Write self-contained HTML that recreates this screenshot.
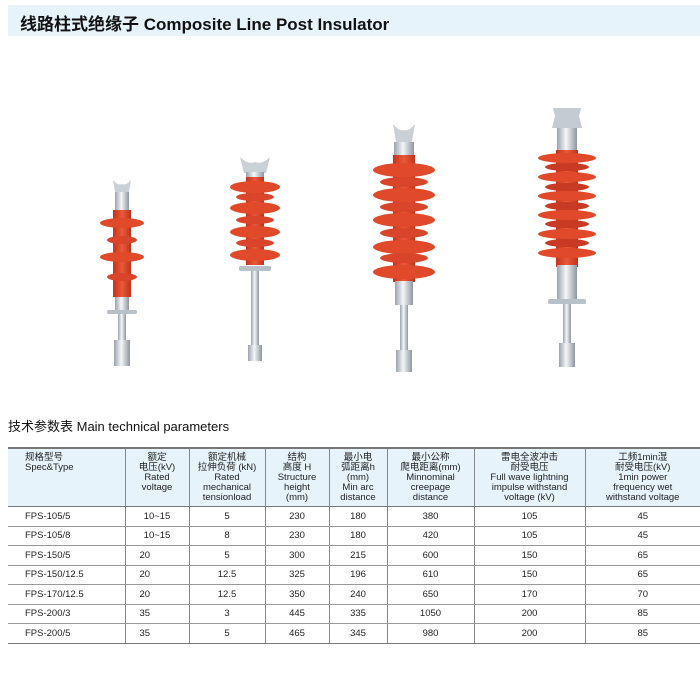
<!DOCTYPE html>
<html><head><meta charset="utf-8"><style>
body{margin:0;width:700px;height:673px;background:#fff;position:relative;overflow:hidden;font-family:"Liberation Sans","Noto Sans CJK SC",sans-serif;}
.hdr{position:absolute;left:8px;top:5px;width:692px;height:31px;background:#e6f3fb;}
.hdr span{position:absolute;left:12px;top:5px;font-size:17px;font-weight:bold;color:#111;white-space:nowrap;}
.sub{position:absolute;left:8px;top:416px;font-size:13px;color:#111;white-space:nowrap;}
table{position:absolute;left:8px;top:447px;width:692px;border-collapse:collapse;font-size:9.5px;color:#222;table-layout:fixed;}
th{background:#e6f3fb;font-weight:normal;line-height:10px;vertical-align:top;padding:4px 1px 2px;height:51px;border-top:2px solid #777;border-bottom:1px solid #777;}
td{height:18.5px;border-bottom:1px solid #999;text-align:center;padding:0;}
th,td{border-left:1px solid #888;}
th:first-child,td:first-child{border-left:none;text-align:left;padding-left:17px;}
tr:last-child td{border-bottom:1.5px solid #777;}
</style></head><body>
<div class="hdr"><span>线路柱式绝缘子 Composite Line Post Insulator</span></div>
<svg width="700" height="400" style="position:absolute;left:0;top:0">
<defs>
<linearGradient id="m" x1="0" x2="1"><stop offset="0" stop-color="#9aa3ad"/><stop offset=".45" stop-color="#f4f6f8"/><stop offset="1" stop-color="#8d96a0"/></linearGradient>
<linearGradient id="r" x1="0" x2="1"><stop offset="0" stop-color="#c8321a"/><stop offset=".5" stop-color="#e85a3a"/><stop offset="1" stop-color="#c2301a"/></linearGradient>
</defs>
<g>
<path d="M113 180 Q118 186 122 184 Q126 186 131 180 L129 192 L115 192Z" fill="#c9d0d6"/>
<rect x="115" y="192" width="14" height="18" fill="url(#m)"/>
<rect x="113" y="210" width="18" height="87" fill="url(#r)"/>
<ellipse cx="122" cy="223" rx="22" ry="5" fill="#e04a2a"/>
<ellipse cx="122" cy="240" rx="15" ry="4" fill="#d8452a"/>
<ellipse cx="122" cy="257" rx="22" ry="5" fill="#e04a2a"/>
<ellipse cx="122" cy="277" rx="15" ry="4" fill="#d8452a"/>
<rect x="115" y="297" width="14" height="14" fill="url(#m)"/>
<rect x="107" y="310" width="30" height="4" rx="2" fill="#b8c0c8"/>
<rect x="118" y="314" width="8" height="28" fill="url(#m)"/>
<rect x="114" y="340" width="16" height="26" fill="url(#m)"/>
</g>
<g>
<path d="M240 157 Q248 165 255 162 Q262 165 270 157 L266 173 L244 173Z" fill="#c9d0d6"/>
<rect x="246" y="172" width="18" height="6" fill="url(#m)"/>
<rect x="246" y="177" width="18" height="88" fill="url(#r)"/>
<ellipse cx="255" cy="187" rx="25" ry="6" fill="#e04a2a"/>
<ellipse cx="255" cy="197" rx="19" ry="4" fill="#d8452a"/>
<ellipse cx="255" cy="208" rx="25" ry="6" fill="#e04a2a"/>
<ellipse cx="255" cy="220" rx="19" ry="4" fill="#d8452a"/>
<ellipse cx="255" cy="232" rx="25" ry="6" fill="#e04a2a"/>
<ellipse cx="255" cy="243" rx="19" ry="4" fill="#d8452a"/>
<ellipse cx="255" cy="255" rx="25" ry="6" fill="#e04a2a"/>
<rect x="239" y="266" width="32" height="5" rx="2" fill="#b8c0c8"/>
<rect x="251" y="271" width="8" height="80" fill="url(#m)"/>
<rect x="248" y="345" width="14" height="16" fill="url(#m)"/>
</g>
<g>
<path d="M393 124 Q400 132 404 130 Q408 132 415 124 L412 142 L396 142Z" fill="#c9d0d6"/>
<rect x="394" y="142" width="20" height="14" fill="url(#m)"/>
<rect x="393" y="155" width="22" height="127" fill="url(#r)"/>
<ellipse cx="404" cy="170" rx="31" ry="7" fill="#e04a2a"/>
<ellipse cx="404" cy="182" rx="24" ry="5" fill="#d8452a"/>
<ellipse cx="404" cy="195" rx="31" ry="7" fill="#e04a2a"/>
<ellipse cx="404" cy="207" rx="24" ry="5" fill="#d8452a"/>
<ellipse cx="404" cy="220" rx="31" ry="7" fill="#e04a2a"/>
<ellipse cx="404" cy="233" rx="24" ry="5" fill="#d8452a"/>
<ellipse cx="404" cy="247" rx="31" ry="7" fill="#e04a2a"/>
<ellipse cx="404" cy="258" rx="24" ry="5" fill="#d8452a"/>
<ellipse cx="404" cy="272" rx="31" ry="7" fill="#e04a2a"/>
<rect x="395" y="281" width="18" height="24" fill="url(#m)"/>
<rect x="400" y="305" width="8" height="47" fill="url(#m)"/>
<rect x="396" y="350" width="16" height="22" fill="url(#m)"/>
</g>
<g>
<path d="M553 108 L581 108 L579 116 L582 128 L552 128 L555 116Z" fill="#c4cbd2"/>
<rect x="557" y="128" width="20" height="24" fill="url(#m)"/>
<rect x="556" y="150" width="22" height="117" fill="url(#r)"/>
<ellipse cx="567" cy="158" rx="29" ry="5" fill="#e04a2a"/>
<ellipse cx="567" cy="167" rx="22" ry="4" fill="#c83a24"/>
<ellipse cx="567" cy="177" rx="29" ry="5" fill="#e04a2a"/>
<ellipse cx="567" cy="187" rx="22" ry="4" fill="#c83a24"/>
<ellipse cx="567" cy="196" rx="29" ry="5" fill="#e04a2a"/>
<ellipse cx="567" cy="206" rx="22" ry="4" fill="#c83a24"/>
<ellipse cx="567" cy="215" rx="29" ry="5" fill="#e04a2a"/>
<ellipse cx="567" cy="224" rx="22" ry="4" fill="#c83a24"/>
<ellipse cx="567" cy="234" rx="29" ry="5" fill="#e04a2a"/>
<ellipse cx="567" cy="243" rx="22" ry="4" fill="#c83a24"/>
<ellipse cx="567" cy="253" rx="29" ry="5" fill="#e04a2a"/>
<rect x="557" y="265" width="20" height="36" fill="url(#m)"/>
<rect x="548" y="299" width="38" height="5" rx="2" fill="#b8c0c8"/>
<rect x="563" y="304" width="8" height="42" fill="url(#m)"/>
<rect x="559" y="343" width="16" height="24" fill="url(#m)"/>
</g>
</svg>
<div class="sub">技术参数表 Main technical parameters</div>
<table>
<colgroup><col style="width:117px"><col style="width:64px"><col style="width:76px"><col style="width:64px"><col style="width:58px"><col style="width:87px"><col style="width:111px"><col></colgroup>
<tr><th style="text-align:left">规格型号<br>Spec&amp;Type</th><th>额定<br>电压(kV)<br>Rated<br>voltage</th><th>额定机械<br>拉伸负荷 (kN)<br>Rated<br>mechanical<br>tensionload</th><th>结构<br>高度 H<br>Structure<br>height<br>(mm)</th><th>最小电<br>弧距离h<br>(mm)<br>Min arc<br>distance</th><th>最小公称<br>爬电距离(mm)<br>Minnominal<br>creepage<br>distance</th><th>雷电全波冲击<br>耐受电压<br>Full wave lightning<br>impulse withstand<br>voltage (kV)</th><th>工频1min湿<br>耐受电压(kV)<br>1min power<br>frequency wet<br>withstand voltage</th></tr>
<tr><td>FPS-105/5</td><td>10~15</td><td>5</td><td>230</td><td>180</td><td>380</td><td>105</td><td>45</td></tr>
<tr><td>FPS-105/8</td><td>10~15</td><td>8</td><td>230</td><td>180</td><td>420</td><td>105</td><td>45</td></tr>
<tr><td>FPS-150/5</td><td style="text-align:left;padding-left:14px">20</td><td>5</td><td>300</td><td>215</td><td>600</td><td>150</td><td>65</td></tr>
<tr><td>FPS-150/12.5</td><td style="text-align:left;padding-left:14px">20</td><td>12.5</td><td>325</td><td>196</td><td>610</td><td>150</td><td>65</td></tr>
<tr><td>FPS-170/12.5</td><td style="text-align:left;padding-left:14px">20</td><td>12.5</td><td>350</td><td>240</td><td>650</td><td>170</td><td>70</td></tr>
<tr><td>FPS-200/3</td><td style="text-align:left;padding-left:14px">35</td><td>3</td><td>445</td><td>335</td><td>1050</td><td>200</td><td>85</td></tr>
<tr><td>FPS-200/5</td><td style="text-align:left;padding-left:14px">35</td><td>5</td><td>465</td><td>345</td><td>980</td><td>200</td><td>85</td></tr>
</table>
</body></html>
